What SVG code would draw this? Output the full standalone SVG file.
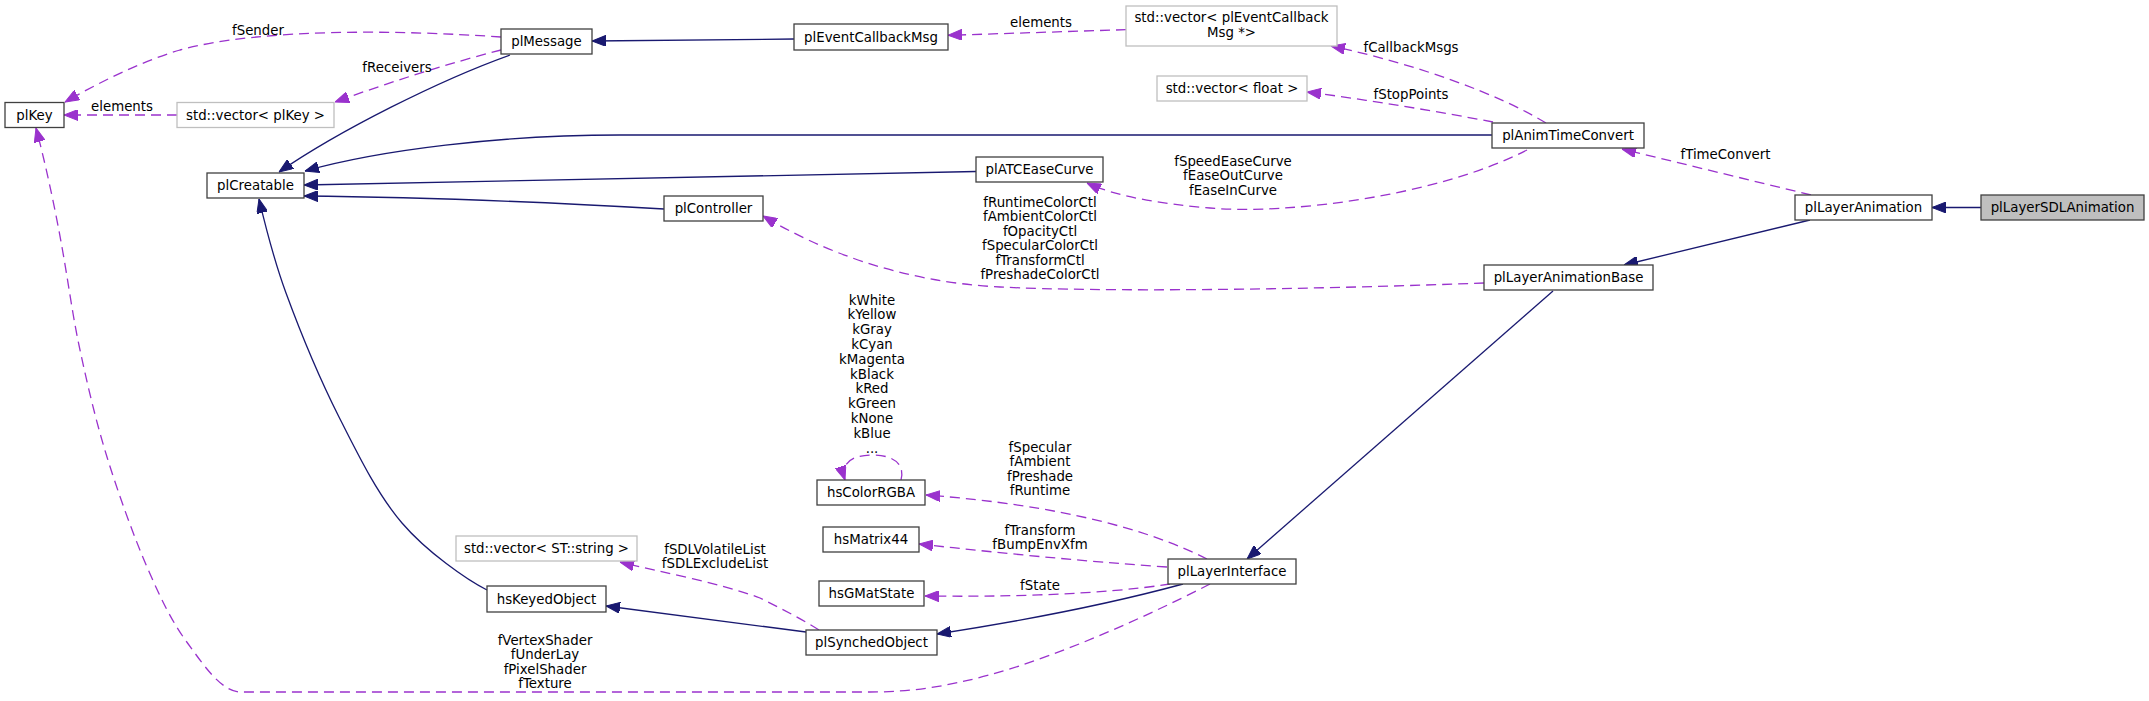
<svg xmlns="http://www.w3.org/2000/svg" width="2149" height="701" viewBox="0 0 2149 701">
<style>
text{font-family:"DejaVu Sans","Liberation Sans",sans-serif;font-size:13.33px;fill:#000;text-anchor:middle}
.n rect{fill:#fff;stroke:#404040;stroke-width:1.3}
.g rect{fill:#fff;stroke:#bfbfbf;stroke-width:1.3}
.t rect{fill:#bfbfbf;stroke:#404040;stroke-width:1.3}
.inh{fill:none;stroke:#191970;stroke-width:1.3}
.use{fill:none;stroke:#9a32cd;stroke-width:1.3;stroke-dasharray:10,6}
</style>
<defs>
<marker id="ab" markerWidth="14" markerHeight="11" refX="14" refY="5.5" orient="auto" markerUnits="userSpaceOnUse"><path d="M0,0 L14,5.5 L0,11 z" fill="#191970" stroke="#191970"/></marker>
<marker id="ap" markerWidth="14" markerHeight="11" refX="14" refY="5.5" orient="auto" markerUnits="userSpaceOnUse"><path d="M0,0 L14,5.5 L0,11 z" fill="#9a32cd" stroke="#9a32cd"/></marker>
</defs>
<rect width="2149" height="701" fill="#fff"/>
<g id="connectors">
<!-- inheritance -->
<path class="inh" marker-end="url(#ab)" d="M1981,207.5 L1932,207.5"/>
<path class="inh" marker-end="url(#ab)" d="M1810,220 L1624,265"/>
<path class="inh" marker-end="url(#ab)" d="M1553,291 L1247,559"/>
<path class="inh" marker-end="url(#ab)" d="M1183,584 Q1080,612 937,634"/>
<path class="inh" marker-end="url(#ab)" d="M806,632 L606,606"/>
<path class="inh" marker-end="url(#ab)" d="M487,590 C467,580 426.7,551.8 402,523 C377.3,494.2 358.3,455.3 339,417 C319.7,378.7 299.3,329.2 286,293 C272.7,256.8 264,220 259,199"/>
<path class="inh" marker-end="url(#ab)" d="M510,55 C440,80 340,130 279,172"/>
<path class="inh" marker-end="url(#ab)" d="M794,39 L592,41"/>
<path class="inh" marker-end="url(#ab)" d="M1492,135 L620,135 C500,135 380,150 305,171"/>
<path class="inh" marker-end="url(#ab)" d="M976,171.5 Q640,177 304,185"/>
<path class="inh" marker-end="url(#ab)" d="M664,209 C560,203 420,197 304,196"/>
<!-- usage -->
<path class="use" marker-end="url(#ap)" d="M501,37 C400,30 260,28 180,50 C140,62 100,82 65,102"/>
<text x="258" y="34.5">fSender</text>
<path class="use" marker-end="url(#ap)" d="M501,50 C450,63 390,82 335,102"/>
<text x="397" y="72">fReceivers</text>
<path class="use" marker-end="url(#ap)" d="M177,115 L64,115"/>
<text x="122" y="110.5">elements</text>
<path class="use" marker-end="url(#ap)" d="M1210,584 C1130,625 1030,668 960,682 C930,689 900,692 870,692 L241,692 C221,692 203.2,664.3 187.5,643 C171.8,621.7 160.4,598 147,567 C133.6,536 118.2,493.2 107,457 C95.8,420.8 87.4,384.5 80,350 C72.6,315.5 69.9,292.2 62.5,250 C55.1,207.8 44.6,160 36,128"/>
<text x="545" y="644.5">fVertexShader</text>
<text x="545" y="659">fUnderLay</text>
<text x="545" y="673.5">fPixelShader</text>
<text x="545" y="688">fTexture</text>
<path class="use" marker-end="url(#ap)" d="M1126,29.7 L948,35.3"/>
<text x="1041" y="27">elements</text>
<path class="use" marker-end="url(#ap)" d="M1546,123 C1500,95 1420,65 1331,46"/>
<text x="1411" y="51.5">fCallbackMsgs</text>
<path class="use" marker-end="url(#ap)" d="M1493,122 C1440,112 1370,100 1307,92"/>
<text x="1411" y="99">fStopPoints</text>
<path class="use" marker-end="url(#ap)" d="M1527,150 C1440,195 1290,215 1210,208 C1160,204 1115,196 1087,183"/>
<text x="1233" y="165.5">fSpeedEaseCurve</text>
<text x="1233" y="180">fEaseOutCurve</text>
<text x="1233" y="194.5">fEaseInCurve</text>
<path class="use" marker-end="url(#ap)" d="M1811,195 L1622,149"/>
<text x="1725.5" y="159">fTimeConvert</text>
<path class="use" marker-end="url(#ap)" d="M1484,283 C1300,290 1100,292 1000,287 C900,282 820,250 763,216"/>
<text x="1040" y="206.5">fRuntimeColorCtl</text>
<text x="1040" y="221">fAmbientColorCtl</text>
<text x="1040" y="235.5">fOpacityCtl</text>
<text x="1040" y="250">fSpecularColorCtl</text>
<text x="1040" y="264.5">fTransformCtl</text>
<text x="1040" y="279">fPreshadeColorCtl</text>
<path class="use" marker-end="url(#ap)" d="M901,480 C905,465 895,455 872,455 C850,455 840,465 845,480"/>
<text x="872" y="304.5">kWhite</text>
<text x="872" y="319.3">kYellow</text>
<text x="872" y="334.1">kGray</text>
<text x="872" y="348.9">kCyan</text>
<text x="872" y="363.7">kMagenta</text>
<text x="872" y="378.5">kBlack</text>
<text x="872" y="393.3">kRed</text>
<text x="872" y="408.1">kGreen</text>
<text x="872" y="422.9">kNone</text>
<text x="872" y="437.7">kBlue</text>
<text x="872" y="452.5">...</text>
<path class="use" marker-end="url(#ap)" d="M1207,559 C1150,530 1060,505 926,495"/>
<text x="1040" y="451.5">fSpecular</text>
<text x="1040" y="466">fAmbient</text>
<text x="1040" y="480.5">fPreshade</text>
<text x="1040" y="495">fRuntime</text>
<path class="use" marker-end="url(#ap)" d="M1167,567 C1080,561 1000,553 919,544"/>
<text x="1040" y="534.5">fTransform</text>
<text x="1040" y="549">fBumpEnvXfm</text>
<path class="use" marker-end="url(#ap)" d="M1170,584 C1100,595 1000,597 925,596"/>
<text x="1040" y="589.5">fState</text>
<path class="use" marker-end="url(#ap)" d="M819,630 C800,618 780,608 760,598 C720,583 660,572 620,562"/>
<text x="715" y="553.5">fSDLVolatileList</text>
<text x="715" y="568">fSDLExcludeList</text>
</g>
<g id="plKey" class="n"><rect x="5" y="102.5" width="59" height="25"/><text x="34.5" y="119.5">plKey</text></g>
<g id="vector_plKey" class="g"><rect x="177" y="102.5" width="157" height="25"/><text x="255.5" y="119.5">std::vector&lt; plKey &gt;</text></g>
<g id="plMessage" class="n"><rect x="501" y="29" width="91" height="25"/><text x="546.5" y="46">plMessage</text></g>
<g id="plEventCallbackMsg" class="n"><rect x="794" y="24" width="154" height="26"/><text x="871" y="41.5">plEventCallbackMsg</text></g>
<g id="vector_plEventCallbackMsg" class="g"><rect x="1126" y="6" width="211" height="40"/><text x="1231.5" y="22">std::vector&lt; plEventCallback</text><text x="1231.5" y="37">Msg *&gt;</text></g>
<g id="vector_float" class="g"><rect x="1157" y="76" width="150" height="25"/><text x="1232" y="93">std::vector&lt; float &gt;</text></g>
<g id="plAnimTimeConvert" class="n"><rect x="1492" y="123" width="152" height="25"/><text x="1568" y="140">plAnimTimeConvert</text></g>
<g id="plCreatable" class="n"><rect x="207" y="173" width="97" height="25"/><text x="255.5" y="190">plCreatable</text></g>
<g id="plATCEaseCurve" class="n"><rect x="976" y="157" width="127" height="25"/><text x="1039.5" y="174">plATCEaseCurve</text></g>
<g id="plLayerAnimation" class="n"><rect x="1795" y="195" width="137" height="25"/><text x="1863.5" y="212">plLayerAnimation</text></g>
<g id="plLayerSDLAnimation" class="t"><rect x="1981" y="195" width="163" height="25"/><text x="2062.5" y="212">plLayerSDLAnimation</text></g>
<g id="plController" class="n"><rect x="664" y="196" width="99" height="25"/><text x="713.5" y="213">plController</text></g>
<g id="plLayerAnimationBase" class="n"><rect x="1484" y="265" width="169" height="25"/><text x="1568.5" y="282">plLayerAnimationBase</text></g>
<g id="hsColorRGBA" class="n"><rect x="817" y="480" width="108" height="25"/><text x="871" y="497">hsColorRGBA</text></g>
<g id="hsMatrix44" class="n"><rect x="823" y="527" width="96" height="25"/><text x="871" y="544">hsMatrix44</text></g>
<g id="vector_STstring" class="g"><rect x="456" y="536" width="181" height="25"/><text x="546.5" y="553">std::vector&lt; ST::string &gt;</text></g>
<g id="hsGMatState" class="n"><rect x="819" y="581" width="105" height="25"/><text x="871.5" y="598">hsGMatState</text></g>
<g id="plLayerInterface" class="n"><rect x="1168" y="559" width="128" height="25"/><text x="1232" y="576">plLayerInterface</text></g>
<g id="hsKeyedObject" class="n"><rect x="487" y="586" width="119" height="26"/><text x="546.5" y="603.5">hsKeyedObject</text></g>
<g id="plSynchedObject" class="n"><rect x="806" y="630" width="131" height="25"/><text x="871.5" y="647">plSynchedObject</text></g>
</svg>
